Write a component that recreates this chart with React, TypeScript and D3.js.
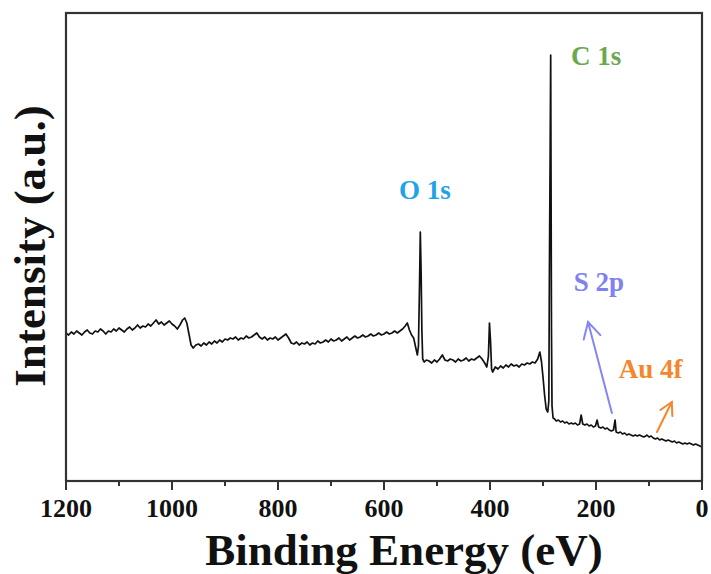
import React from "react";
import * as d3 from "d3";

const energies: number[] = [
  1200,1195,1190,1185,1180,1175,1170,1165,1160,1155,1150,1145,1140,1135,1130,1125,1120,1115,1110,1105,
  1100,1095,1090,1085,1080,1075,1070,1065,1060,1055,1050,1045,1040,1035,1030,1025,1020,1015,1010,1005,
  1000,995,990,985,980,976,972,968,964,960,955,
  950,945,940,935,930,925,920,915,910,905,900,895,890,885,880,875,870,865,860,855,850,845,840,835,830,825,
  820,815,810,805,800,795,790,785,780,775,770,765,760,755,750,745,740,735,730,725,720,715,710,705,
  700,695,690,685,680,675,670,665,660,655,650,645,640,635,630,625,620,615,610,605,600,595,590,585,580,
  575,570,565,560,556,552,548,544,540,537,535,533,531.5,530,528.5,527,524,520,
  515,510,505,500,495,490,485,480,475,470,465,460,455,450,445,440,435,430,425,420,415,410,406,403,401,399,397,395,
  390,385,380,375,370,365,360,355,350,345,340,335,330,325,320,315,310,306,303,300,297,294,291,289,288,286.5,285.5,284.8,284,283,281,
  278,275,271,267,263,259,255,251,247,243,239,235,231,228,225,221,217,213,209,205,201,198,195,191,187,183,179,175,171,167,164,162,
  158,154,150,146,142,138,134,130,126,122,118,114,110,106,104,100,96,92,88,84,80,76,72,68,64,60,56,52,48,44,40,36,32,28,24,20,16,12,8,4,0
];

const intensities: number[] = [
  148,146,149,147,150,148,146,149,151,148,147,150,149,152,150,147,150,149,152,150,
  153,151,149,152,154,151,153,156,153,155,154,157,155,158,161,157,159,156,158,160,
  157,155,152,156,161,163,158,147,136,133,136,
  137,135,138,136,139,137,140,138,141,139,142,141,143,142,144,141,143,142,145,143,144,146,148,144,142,144,
  141,143,142,144,141,143,145,147,143,138,137,139,136,138,137,139,136,138,137,140,138,139,141,139,
  142,140,141,143,140,142,144,141,143,145,143,144,146,144,145,147,145,146,148,146,147,149,147,148,150,
  148,150,152,155,158,151,146,143,133,126,135,195,249,210,150,122,119,121,
  120,118,121,119,122,126,121,120,122,121,119,122,120,121,123,120,122,121,123,125,122,118,114,125,158,140,112,109,
  114,112,115,113,116,114,117,115,116,114,117,116,118,117,119,118,122,129,120,104,86,72,69,80,200,330,426,300,150,75,63,
  62,60,61,59,60,58,59,57,58,57,58,56,57,66,57,56,57,55,56,54,55,61,54,53,54,52,53,51,50,51,61,49,
  48,49,47,48,46,47,46,45,46,45,46,45,44,45,46,44,45,43,42,43,41,42,41,40,41,40,39,40,38,39,38,37,38,37,38,37,36,37,36,35,34
];

const majorTicks: number[] = [1200, 1000, 800, 600, 400, 200, 0];
const minorTicks: number[] = [1100, 900, 700, 500, 300, 100];

const peakLabels: string[] = ["O 1s", "C 1s", "S 2p", "Au 4f"];
const peakLabelE: number[] = [523, 247, 242, 157];
const peakLabelI: number[] = [282, 416, 190, 103];
const peakLabelAnchor: string[] = ["middle", "start", "start", "start"];
const peakColors: string[] = ["#1ea4e6", "#6aa84f", "#8080f2", "#f5862c"];

// arrows: tail [E, I] and tip [E, I]
const arrowTails: [number, number][] = [[170, 68], [85, 49]];
const arrowTips: [number, number][] = [[215, 159], [57, 79]];
const arrowColors: string[] = ["#8585f5", "#f5862c"];

const W = 711;
const H = 574;
const FONT = "'Liberation Serif', 'Times New Roman', Times, serif";

export default function App() {
  const x = d3.scaleLinear().domain([1200, 0]).range([66, 702]);
  const y = d3.scaleLinear().domain([0, 468]).range([481, 13]);

  const pts: [number, number][] = energies.map((e, i) => [e, intensities[i]]);
  const line = d3
    .line<[number, number]>()
    .x((d) => x(d[0]))
    .y((d) => y(d[1]));

  const arrowHead = (tx: number, ty: number, fx: number, fy: number, len: number) => {
    const ang = Math.atan2(ty - fy, tx - fx);
    const spread = 0.5;
    const a1 = ang + Math.PI - spread;
    const a2 = ang + Math.PI + spread;
    return `M${tx + len * Math.cos(a1)},${ty + len * Math.sin(a1)}L${tx},${ty}L${tx + len * Math.cos(a2)},${ty + len * Math.sin(a2)}`;
  };

  return (
    <svg
      width={W}
      height={H}
      style={{ position: "absolute", left: 0, top: 0, background: "#fff" }}
      fontFamily={FONT}
    >
      <rect x={0} y={0} width={W} height={H} fill="#fff" />
      {/* data */}
      <path d={line(pts) || ""} fill="none" stroke="#111" strokeWidth={1.7} strokeLinejoin="round" />
      {/* frame */}
      <rect x={x(1200)} y={y(468)} width={x(0) - x(1200)} height={y(0) - y(468)} fill="none" stroke="#333" strokeWidth={2.2} />
      {/* ticks */}
      {majorTicks.map((t) => (
        <line key={"M" + t} x1={x(t)} x2={x(t)} y1={y(0)} y2={y(0) + 9} stroke="#333" strokeWidth={2} />
      ))}
      {minorTicks.map((t) => (
        <line key={"m" + t} x1={x(t)} x2={x(t)} y1={y(0)} y2={y(0) + 5} stroke="#333" strokeWidth={2} />
      ))}
      {majorTicks.map((t) => (
        <text key={"L" + t} x={x(t)} y={517} textAnchor="middle" fontSize={26} fontWeight="bold" fill="#111">
          {t}
        </text>
      ))}
      <text x={404} y={565} textAnchor="middle" fontSize={45} fontWeight="bold" fill="#111">
        Binding Energy (eV)
      </text>
      <text
        transform={`translate(45,246) rotate(-90)`}
        textAnchor="middle"
        fontSize={45}
        fontWeight="bold"
        fill="#111"
      >
        Intensity (a.u.)
      </text>
      {peakLabels.map((s, i) => (
        <text
          key={s}
          x={x(peakLabelE[i])}
          y={y(peakLabelI[i])}
          textAnchor={peakLabelAnchor[i] as any}
          fontSize={27}
          fontWeight="bold"
          fill={peakColors[i]}
        >
          {s}
        </text>
      ))}
      {arrowTails.map((t, i) => {
        const fx = x(t[0]);
        const fy = y(t[1]);
        const tx = x(arrowTips[i][0]);
        const ty = y(arrowTips[i][1]);
        return (
          <g key={"a" + i} stroke={arrowColors[i]} strokeWidth={2} fill="none" strokeLinecap="round">
            <line x1={fx} y1={fy} x2={tx} y2={ty} />
            <path d={arrowHead(tx, ty, fx, fy, i === 0 ? 18 : 14)} />
          </g>
        );
      })}
    </svg>
  );
}
